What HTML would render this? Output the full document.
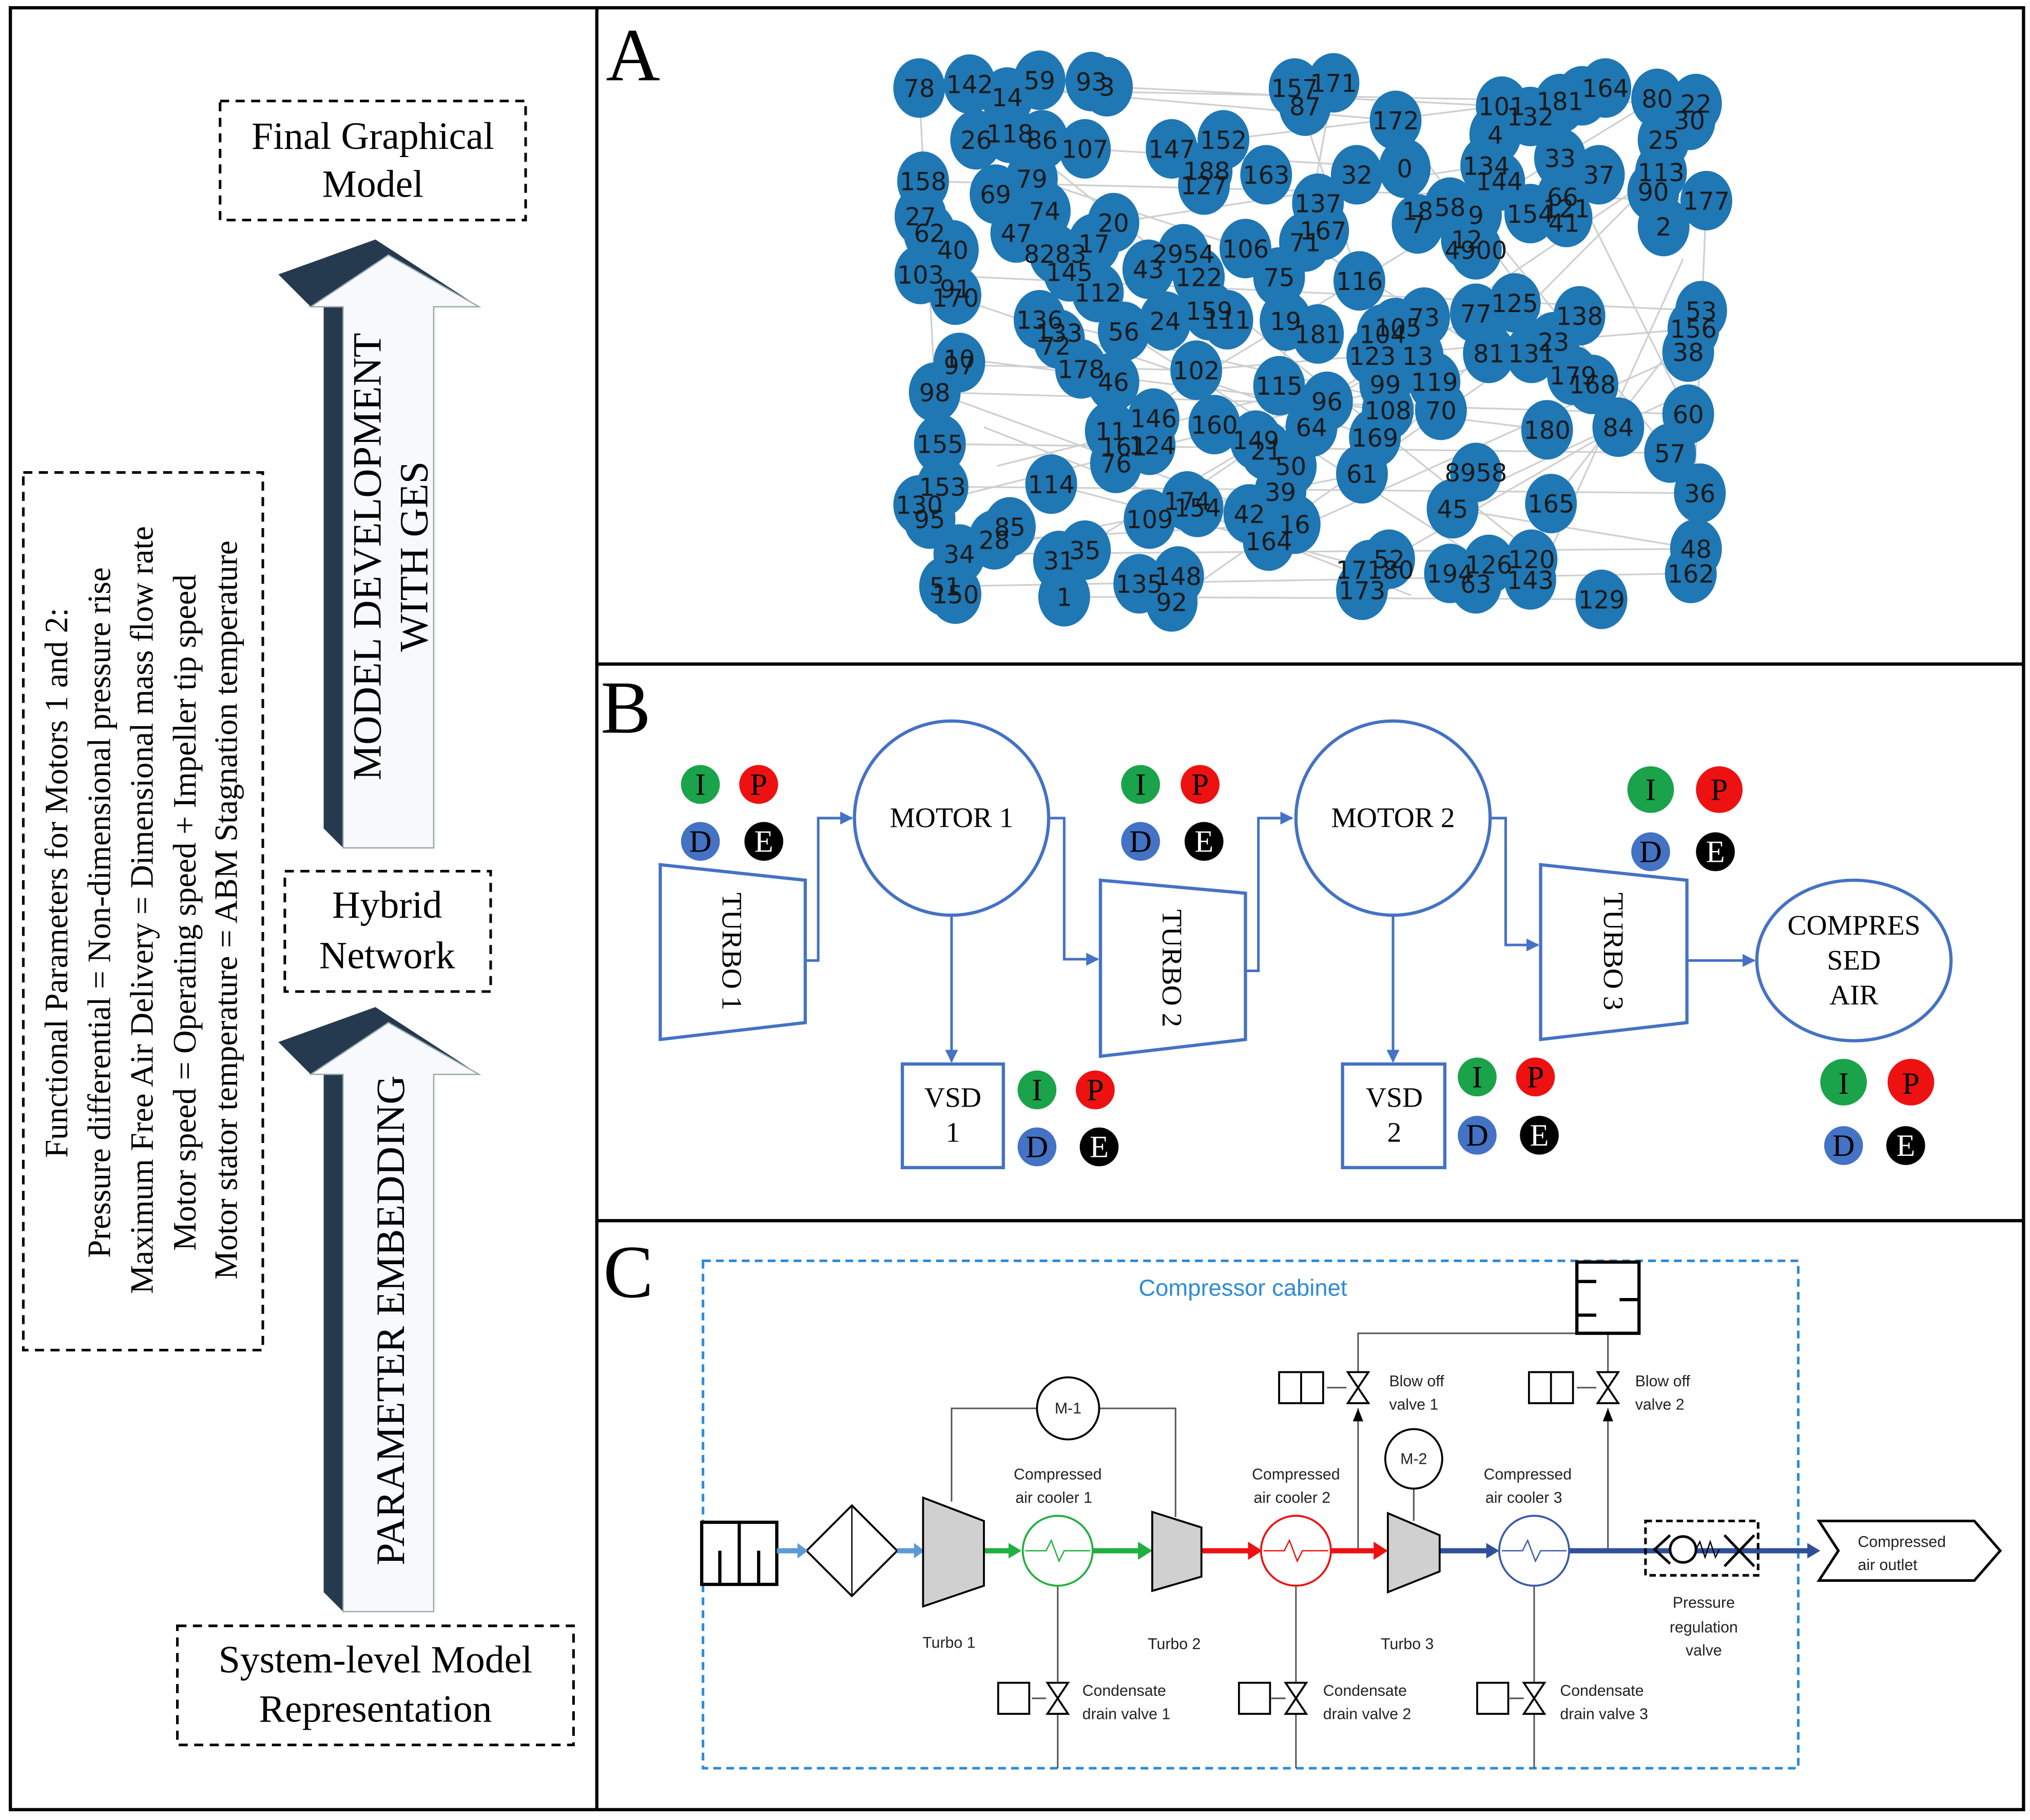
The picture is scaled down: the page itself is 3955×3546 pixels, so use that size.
<!DOCTYPE html>
<html><head><meta charset="utf-8"><style>html,body{margin:0;padding:0;background:#fff}svg{display:block}</style></head>
<body>
<svg width="3955" height="3546" viewBox="0 0 1568 1406" preserveAspectRatio="none" xmlns="http://www.w3.org/2000/svg">
<rect x="0" y="0" width="1568" height="1406" fill="#fff"/>
<g fill="none" stroke="#000" stroke-width="2.5">
<rect x="8" y="6" width="1555" height="1392"/>
<line x1="461" y1="6" x2="461" y2="1398"/>
<line x1="461" y1="513" x2="1563" y2="513"/>
<line x1="461" y1="943" x2="1563" y2="943"/>
</g>

<!-- LEFT PANEL -->
<g font-family="Liberation Serif, serif" fill="#000">
<g fill="none" stroke="#000" stroke-width="2" stroke-dasharray="7,5">
<rect x="170" y="78" width="236" height="92"/>
<rect x="220" y="673" width="159" height="93"/>
<rect x="137" y="1256" width="306" height="92"/>
<rect x="18" y="365" width="185" height="678"/>
</g>
<text x="288" y="115" font-size="30" text-anchor="middle">Final Graphical</text>
<text x="288" y="152" font-size="30" text-anchor="middle">Model</text>
<text x="299" y="709" font-size="30" text-anchor="middle">Hybrid</text>
<text x="299" y="748" font-size="30" text-anchor="middle">Network</text>
<text x="290" y="1292" font-size="30" text-anchor="middle">System-level Model</text>
<text x="290" y="1330" font-size="30" text-anchor="middle">Representation</text>

<polygon points="250,237 265,237 265,655 250,640" fill="#263a4f"/>
<polygon points="215,212 290,185 370,237 240,237" fill="#263a4f"/>
<polygon points="265,237 240,237 300,197 370,237 335,237 335,655 265,655" fill="#f7f9fc" stroke="#9aa" stroke-width="1"/>
<text transform="translate(294,430) rotate(-90)" font-size="31" text-anchor="middle">MODEL DEVELOPMENT</text>
<text transform="translate(330,430) rotate(-90)" font-size="31" text-anchor="middle">WITH GES</text>
<polygon points="250,830 265,830 265,1245 250,1230" fill="#263a4f"/>
<polygon points="215,805 290,778 370,830 240,830" fill="#263a4f"/>
<polygon points="265,830 240,830 300,790 370,830 335,830 335,1245 265,1245" fill="#f7f9fc" stroke="#9aa" stroke-width="1"/>
<text transform="translate(312,1020) rotate(-90)" font-size="31" text-anchor="middle">PARAMETER EMBEDDING</text>

<g font-size="25" text-anchor="middle">
<text transform="translate(52,682) rotate(-90)">Functional Parameters  for Motors 1 and 2:</text>
<text transform="translate(85,705) rotate(-90)">Pressure differential = Non-dimensional pressure rise</text>
<text transform="translate(118,703) rotate(-90)">Maximum Free Air Delivery = Dimensional mass flow rate</text>
<text transform="translate(151,705) rotate(-90)">Motor speed = Operating speed + Impeller tip speed</text>
<text transform="translate(183,703) rotate(-90)">Motor stator temperature = ABM Stagnation temperature</text>
</g>
</g>

<g font-family="Liberation Serif, serif" font-size="58" fill="#000">
<text x="468" y="62">A</text>
<text x="464" y="566">B</text>
<text x="466" y="1002">C</text>
</g>

<!-- PANEL A -->
<g stroke="#cfcfcf" stroke-width="1.3">
<line x1="710" y1="68" x2="1310" y2="80"/><line x1="749" y1="65" x2="1078" y2="93"/><line x1="855" y1="67" x2="1160" y2="82"/>
<line x1="713" y1="140" x2="1318" y2="155"/><line x1="711" y1="212" x2="1314" y2="240"/><line x1="722" y1="303" x2="1304" y2="320"/>
<line x1="726" y1="343" x2="1290" y2="350"/><line x1="728" y1="376" x2="1313" y2="381"/><line x1="741" y1="428" x2="1310" y2="424"/>
<line x1="730" y1="453" x2="1306" y2="443"/><line x1="822" y1="461" x2="1237" y2="463"/><line x1="710" y1="68" x2="730" y2="453"/>
<line x1="1318" y1="155" x2="1306" y2="443"/><line x1="780" y1="103" x2="1200" y2="440"/><line x1="858" y1="333" x2="1280" y2="76"/>
<line x1="741" y1="277" x2="1195" y2="332"/><line x1="818" y1="433" x2="1140" y2="242"/><line x1="888" y1="401" x2="1283" y2="133"/>
<line x1="924" y1="286" x2="1308" y2="254"/><line x1="1000" y1="68" x2="1050" y2="217"/><line x1="1030" y1="64" x2="988" y2="298"/>
<line x1="738" y1="230" x2="1062" y2="338"/><line x1="803" y1="247" x2="1113" y2="317"/><line x1="868" y1="256" x2="1150" y2="436"/>
<line x1="712" y1="390" x2="1183" y2="273"/><line x1="905" y1="465" x2="1220" y2="244"/><line x1="980" y1="418" x2="1304" y2="272"/>
<line x1="1073" y1="432" x2="1250" y2="330"/><line x1="1122" y1="393" x2="1310" y2="424"/><line x1="838" y1="115" x2="1085" y2="130"/>
<line x1="945" y1="108" x2="1222" y2="74"/><line x1="797" y1="138" x2="962" y2="192"/><line x1="860" y1="172" x2="1148" y2="128"/>
<line x1="812" y1="374" x2="1055" y2="438"/><line x1="1052" y1="366" x2="1283" y2="133"/><line x1="1198" y1="389" x2="1314" y2="240"/>
<line x1="1140" y1="166" x2="1290" y2="350"/><line x1="742" y1="282" x2="924" y2="286"/><line x1="768" y1="417" x2="1000" y2="405"/>
<line x1="1205" y1="122" x2="1304" y2="320"/><line x1="1008" y1="187" x2="1150" y2="273"/><line x1="1078" y1="93" x2="1230" y2="297"/>
<line x1="722" y1="303" x2="1000" y2="405"/><line x1="741" y1="428" x2="1052" y2="366"/><line x1="760" y1="330" x2="1090" y2="460"/>
<line x1="770" y1="360" x2="1010" y2="300"/><line x1="1140" y1="380" x2="1310" y2="300"/><line x1="1200" y1="420" x2="1300" y2="200"/>
</g>
<g fill="#1f77b4">
<ellipse cx="710" cy="68" rx="20" ry="23"/><ellipse cx="749" cy="65" rx="20" ry="23"/><ellipse cx="778" cy="75" rx="20" ry="23"/><ellipse cx="803" cy="62" rx="20" ry="23"/><ellipse cx="843" cy="63" rx="20" ry="23"/><ellipse cx="855" cy="67" rx="20" ry="23"/>
<ellipse cx="1000" cy="68" rx="20" ry="23"/><ellipse cx="1008" cy="82" rx="20" ry="23"/><ellipse cx="1030" cy="64" rx="20" ry="23"/>
<ellipse cx="1078" cy="93" rx="20" ry="23"/><ellipse cx="1160" cy="82" rx="20" ry="23"/><ellipse cx="1155" cy="104" rx="20" ry="23"/><ellipse cx="1182" cy="90" rx="20" ry="23"/><ellipse cx="1205" cy="80" rx="20" ry="23"/><ellipse cx="1222" cy="74" rx="20" ry="23"/><ellipse cx="1240" cy="68" rx="20" ry="23"/><ellipse cx="1280" cy="76" rx="20" ry="23"/><ellipse cx="1310" cy="80" rx="20" ry="23"/><ellipse cx="1305" cy="93" rx="20" ry="23"/><ellipse cx="1285" cy="108" rx="20" ry="23"/>
<ellipse cx="754" cy="108" rx="20" ry="23"/><ellipse cx="780" cy="103" rx="20" ry="23"/><ellipse cx="805" cy="108" rx="20" ry="23"/><ellipse cx="838" cy="115" rx="20" ry="23"/>
<ellipse cx="905" cy="115" rx="20" ry="23"/><ellipse cx="945" cy="108" rx="20" ry="23"/><ellipse cx="932" cy="132" rx="20" ry="23"/><ellipse cx="930" cy="143" rx="20" ry="23"/><ellipse cx="978" cy="135" rx="20" ry="23"/>
<ellipse cx="1085" cy="130" rx="20" ry="23"/><ellipse cx="1048" cy="135" rx="20" ry="23"/><ellipse cx="1148" cy="128" rx="20" ry="23"/><ellipse cx="1158" cy="140" rx="20" ry="23"/><ellipse cx="1205" cy="122" rx="20" ry="23"/><ellipse cx="1235" cy="135" rx="20" ry="23"/><ellipse cx="1283" cy="133" rx="20" ry="23"/><ellipse cx="1277" cy="148" rx="20" ry="23"/><ellipse cx="1318" cy="155" rx="20" ry="23"/><ellipse cx="1285" cy="175" rx="20" ry="23"/>
<ellipse cx="713" cy="140" rx="20" ry="23"/><ellipse cx="769" cy="150" rx="20" ry="23"/><ellipse cx="797" cy="138" rx="20" ry="23"/><ellipse cx="807" cy="163" rx="20" ry="23"/><ellipse cx="785" cy="180" rx="20" ry="23"/><ellipse cx="860" cy="172" rx="20" ry="23"/>
<ellipse cx="1018" cy="157" rx="20" ry="23"/><ellipse cx="1022" cy="178" rx="20" ry="23"/><ellipse cx="1008" cy="187" rx="20" ry="23"/><ellipse cx="1095" cy="173" rx="20" ry="23"/><ellipse cx="1120" cy="160" rx="20" ry="23"/><ellipse cx="1140" cy="166" rx="20" ry="23"/><ellipse cx="1133" cy="185" rx="20" ry="23"/><ellipse cx="1140" cy="193" rx="20" ry="23"/><ellipse cx="1182" cy="165" rx="20" ry="23"/><ellipse cx="1207" cy="152" rx="20" ry="23"/><ellipse cx="1210" cy="168" rx="20" ry="23"/>
<ellipse cx="711" cy="167" rx="20" ry="23"/><ellipse cx="718" cy="180" rx="20" ry="23"/><ellipse cx="736" cy="193" rx="20" ry="23"/><ellipse cx="711" cy="212" rx="20" ry="23"/><ellipse cx="738" cy="228" rx="20" ry="23"/>
<ellipse cx="815" cy="196" rx="20" ry="23"/><ellipse cx="845" cy="188" rx="20" ry="23"/><ellipse cx="826" cy="210" rx="20" ry="23"/><ellipse cx="848" cy="226" rx="20" ry="23"/><ellipse cx="887" cy="208" rx="20" ry="23"/><ellipse cx="914" cy="196" rx="20" ry="23"/><ellipse cx="926" cy="214" rx="20" ry="23"/><ellipse cx="962" cy="192" rx="20" ry="23"/><ellipse cx="988" cy="214" rx="20" ry="23"/><ellipse cx="1050" cy="217" rx="20" ry="23"/>
<ellipse cx="803" cy="247" rx="20" ry="23"/><ellipse cx="818" cy="262" rx="20" ry="23"/><ellipse cx="868" cy="256" rx="20" ry="23"/><ellipse cx="900" cy="248" rx="20" ry="23"/><ellipse cx="934" cy="240" rx="20" ry="23"/><ellipse cx="948" cy="247" rx="20" ry="23"/><ellipse cx="993" cy="248" rx="20" ry="23"/><ellipse cx="1018" cy="258" rx="20" ry="23"/><ellipse cx="1078" cy="253" rx="20" ry="23"/><ellipse cx="1100" cy="245" rx="20" ry="23"/><ellipse cx="1068" cy="258" rx="20" ry="23"/><ellipse cx="1140" cy="242" rx="20" ry="23"/><ellipse cx="1170" cy="234" rx="20" ry="23"/><ellipse cx="1220" cy="244" rx="20" ry="23"/><ellipse cx="1314" cy="240" rx="20" ry="23"/><ellipse cx="1308" cy="254" rx="20" ry="23"/><ellipse cx="1304" cy="272" rx="20" ry="23"/>
<ellipse cx="741" cy="280" rx="20" ry="23"/><ellipse cx="722" cy="303" rx="20" ry="23"/><ellipse cx="835" cy="285" rx="20" ry="23"/><ellipse cx="860" cy="295" rx="20" ry="23"/><ellipse cx="924" cy="286" rx="20" ry="23"/><ellipse cx="1060" cy="275" rx="20" ry="23"/><ellipse cx="1095" cy="275" rx="20" ry="23"/><ellipse cx="1150" cy="273" rx="20" ry="23"/><ellipse cx="1183" cy="273" rx="20" ry="23"/><ellipse cx="1200" cy="264" rx="20" ry="23"/><ellipse cx="1215" cy="290" rx="20" ry="23"/><ellipse cx="1230" cy="297" rx="20" ry="23"/>
<ellipse cx="988" cy="298" rx="20" ry="23"/><ellipse cx="1025" cy="310" rx="20" ry="23"/><ellipse cx="1070" cy="297" rx="20" ry="23"/><ellipse cx="1108" cy="295" rx="20" ry="23"/><ellipse cx="1072" cy="317" rx="20" ry="23"/><ellipse cx="1113" cy="317" rx="20" ry="23"/><ellipse cx="1195" cy="332" rx="20" ry="23"/><ellipse cx="1250" cy="330" rx="20" ry="23"/><ellipse cx="1304" cy="320" rx="20" ry="23"/>
<ellipse cx="726" cy="343" rx="20" ry="23"/><ellipse cx="858" cy="333" rx="20" ry="23"/><ellipse cx="891" cy="323" rx="20" ry="23"/><ellipse cx="866" cy="345" rx="20" ry="23"/><ellipse cx="888" cy="344" rx="20" ry="23"/><ellipse cx="862" cy="358" rx="20" ry="23"/><ellipse cx="938" cy="328" rx="20" ry="23"/><ellipse cx="970" cy="340" rx="20" ry="23"/><ellipse cx="1013" cy="330" rx="20" ry="23"/><ellipse cx="1062" cy="338" rx="20" ry="23"/><ellipse cx="978" cy="348" rx="20" ry="23"/><ellipse cx="997" cy="360" rx="20" ry="23"/><ellipse cx="1052" cy="366" rx="20" ry="23"/><ellipse cx="1290" cy="350" rx="20" ry="23"/>
<ellipse cx="728" cy="376" rx="20" ry="23"/><ellipse cx="710" cy="390" rx="20" ry="23"/><ellipse cx="718" cy="401" rx="20" ry="23"/><ellipse cx="812" cy="374" rx="20" ry="23"/><ellipse cx="917" cy="387" rx="20" ry="23"/><ellipse cx="925" cy="392" rx="20" ry="23"/><ellipse cx="888" cy="401" rx="20" ry="23"/><ellipse cx="965" cy="397" rx="20" ry="23"/><ellipse cx="989" cy="380" rx="20" ry="23"/><ellipse cx="1000" cy="405" rx="20" ry="23"/><ellipse cx="1122" cy="393" rx="20" ry="23"/><ellipse cx="1140" cy="365" rx="20" ry="23"/><ellipse cx="1198" cy="389" rx="20" ry="23"/><ellipse cx="1313" cy="381" rx="20" ry="23"/>
<ellipse cx="741" cy="428" rx="20" ry="23"/><ellipse cx="768" cy="417" rx="20" ry="23"/><ellipse cx="780" cy="407" rx="20" ry="23"/><ellipse cx="818" cy="433" rx="20" ry="23"/><ellipse cx="838" cy="425" rx="20" ry="23"/><ellipse cx="980" cy="418" rx="20" ry="23"/><ellipse cx="1073" cy="432" rx="20" ry="23"/><ellipse cx="1058" cy="440" rx="20" ry="23"/><ellipse cx="1120" cy="443" rx="20" ry="23"/><ellipse cx="1150" cy="436" rx="20" ry="23"/><ellipse cx="1140" cy="451" rx="20" ry="23"/><ellipse cx="1183" cy="432" rx="20" ry="23"/><ellipse cx="1182" cy="448" rx="20" ry="23"/><ellipse cx="1310" cy="424" rx="20" ry="23"/><ellipse cx="1306" cy="443" rx="20" ry="23"/>
<ellipse cx="730" cy="453" rx="20" ry="23"/><ellipse cx="738" cy="459" rx="20" ry="23"/><ellipse cx="822" cy="461" rx="20" ry="23"/><ellipse cx="880" cy="451" rx="20" ry="23"/><ellipse cx="910" cy="445" rx="20" ry="23"/><ellipse cx="905" cy="465" rx="20" ry="23"/><ellipse cx="1237" cy="463" rx="20" ry="23"/><ellipse cx="1052" cy="456" rx="20" ry="23"/>
</g>
<g font-family="DejaVu Sans, Liberation Sans, sans-serif" font-size="19" text-anchor="middle" fill="#1a1a1a">
<text x="710" y="75">78</text><text x="749" y="72">142</text><text x="778" y="82">14</text><text x="803" y="69">59</text><text x="843" y="70">93</text><text x="855" y="74">3</text>
<text x="1000" y="75">157</text><text x="1008" y="89">87</text><text x="1030" y="71">171</text>
<text x="1078" y="100">172</text><text x="1160" y="89">101</text><text x="1155" y="111">4</text><text x="1182" y="97">132</text><text x="1205" y="85">181</text><text x="1240" y="75">164</text><text x="1280" y="83">80</text><text x="1310" y="87">22</text><text x="1305" y="100">30</text><text x="1285" y="115">25</text>
<text x="754" y="115">26</text><text x="780" y="110">118</text><text x="805" y="115">86</text><text x="838" y="122">107</text>
<text x="905" y="122">147</text><text x="945" y="115">152</text><text x="932" y="139">188</text><text x="930" y="150">127</text><text x="978" y="142">163</text>
<text x="1085" y="137">0</text><text x="1048" y="142">32</text><text x="1148" y="135">134</text><text x="1158" y="147">144</text><text x="1205" y="129">33</text><text x="1235" y="142">37</text><text x="1283" y="140">113</text><text x="1277" y="155">90</text><text x="1318" y="162">177</text><text x="1285" y="182">2</text>
<text x="713" y="147">158</text><text x="769" y="157">69</text><text x="797" y="145">79</text><text x="807" y="170">74</text><text x="785" y="187">47</text><text x="860" y="179">20</text>
<text x="1018" y="164">137</text><text x="1022" y="185">167</text><text x="1008" y="194">71</text><text x="1095" y="170">18</text><text x="1095" y="180">7</text><text x="1120" y="167">58</text><text x="1140" y="173">9</text><text x="1133" y="192">12</text><text x="1140" y="200">4900</text><text x="1182" y="172">154</text><text x="1207" y="159">66</text><text x="1210" y="168">121</text><text x="1208" y="179">41</text>
<text x="711" y="174">27</text><text x="718" y="187">62</text><text x="736" y="200">40</text><text x="711" y="219">103</text><text x="738" y="230">91</text><text x="738" y="237">170</text>
<text x="815" y="203">8283</text><text x="845" y="195">17</text><text x="826" y="217">145</text><text x="848" y="233">112</text><text x="887" y="215">43</text><text x="914" y="203">2954</text><text x="926" y="221">122</text><text x="962" y="199">106</text><text x="988" y="221">75</text><text x="1050" y="224">116</text>
<text x="803" y="254">136</text><text x="818" y="264">133</text><text x="815" y="274">72</text><text x="868" y="263">56</text><text x="900" y="255">24</text><text x="934" y="247">159</text><text x="948" y="254">111</text><text x="993" y="255">19</text><text x="1018" y="265">181</text><text x="1080" y="260">105</text><text x="1100" y="252">73</text><text x="1068" y="265">104</text><text x="1140" y="249">77</text><text x="1170" y="241">125</text><text x="1220" y="251">138</text><text x="1314" y="247">53</text><text x="1308" y="261">156</text><text x="1304" y="279">38</text>
<text x="741" y="284">10</text><text x="741" y="289">97</text><text x="722" y="310">98</text><text x="835" y="292">178</text><text x="860" y="302">46</text><text x="924" y="293">102</text><text x="1060" y="282">123</text><text x="1095" y="282">13</text><text x="1150" y="280">81</text><text x="1183" y="280">131</text><text x="1200" y="271">23</text><text x="1215" y="297">179</text><text x="1230" y="304">168</text>
<text x="988" y="305">115</text><text x="1025" y="317">96</text><text x="1070" y="304">99</text><text x="1108" y="302">119</text><text x="1072" y="324">108</text><text x="1113" y="324">70</text><text x="1195" y="339">180</text><text x="1250" y="337">84</text><text x="1304" y="327">60</text>
<text x="726" y="350">155</text><text x="858" y="340">11</text><text x="891" y="330">146</text><text x="868" y="352">161</text><text x="890" y="351">124</text><text x="862" y="365">76</text><text x="938" y="335">160</text><text x="970" y="347">149</text><text x="1013" y="337">64</text><text x="1062" y="345">169</text><text x="978" y="355">21</text><text x="997" y="367">50</text><text x="1052" y="373">61</text><text x="1290" y="357">57</text>
<text x="728" y="383">153</text><text x="710" y="397">130</text><text x="718" y="408">95</text><text x="812" y="381">114</text><text x="917" y="394">174</text><text x="925" y="399">154</text><text x="888" y="408">109</text><text x="965" y="404">42</text><text x="989" y="387">39</text><text x="1000" y="412">16</text><text x="1122" y="400">45</text><text x="1140" y="372">8958</text><text x="1198" y="396">165</text><text x="1313" y="388">36</text>
<text x="741" y="435">34</text><text x="768" y="424">28</text><text x="780" y="414">85</text><text x="818" y="440">31</text><text x="838" y="432">35</text><text x="980" y="425">164</text><text x="1073" y="439">52</text><text x="1062" y="447">17180</text><text x="1120" y="450">194</text><text x="1150" y="443">126</text><text x="1140" y="458">63</text><text x="1183" y="439">120</text><text x="1182" y="455">143</text><text x="1310" y="431">48</text><text x="1306" y="450">162</text>
<text x="730" y="460">51</text><text x="738" y="466">150</text><text x="822" y="468">1</text><text x="880" y="458">135</text><text x="910" y="452">148</text><text x="905" y="472">92</text><text x="1237" y="470">129</text><text x="1052" y="463">173</text>
</g>

<!-- PANEL B -->
<defs>
<marker id="ab" markerWidth="10" markerHeight="10" refX="9" refY="5" orient="auto" markerUnits="userSpaceOnUse"><path d="M0,0 L10,5 L0,10 z" fill="#4472c4"/></marker>
</defs>
<g fill="none" stroke="#4472c4" stroke-width="2.5">
<polygon points="510,668 622,680 622,790 510,803"/>
<polygon points="850,680 962,690 962,803 850,816"/>
<polygon points="1190,668 1303,680 1303,790 1190,803"/>
<circle cx="735" cy="632" r="75"/>
<circle cx="1076" cy="632" r="75"/>
<ellipse cx="1432" cy="742" rx="75" ry="62"/>
<rect x="697" y="822" width="78" height="80"/>
<rect x="1037" y="822" width="79" height="80"/>
<polyline points="622,742 632,742 632,632 658,632" marker-end="url(#ab)" stroke-width="2"/>
<polyline points="810,632 822,632 822,741 848,741" marker-end="url(#ab)" stroke-width="2"/>
<polyline points="962,750 972,750 972,632 998,632" marker-end="url(#ab)" stroke-width="2"/>
<polyline points="1151,632 1163,632 1163,730 1188,730" marker-end="url(#ab)" stroke-width="2"/>
<polyline points="1303,742 1355,742" marker-end="url(#ab)" stroke-width="2"/>
<line x1="735" y1="707" x2="735" y2="820" marker-end="url(#ab)" stroke-width="2"/>
<line x1="1076" y1="707" x2="1076" y2="820" marker-end="url(#ab)" stroke-width="2"/>
</g>
<g font-family="Liberation Serif, serif" font-size="22" text-anchor="middle" fill="#000">
<text x="735" y="639">MOTOR 1</text>
<text x="1076" y="639">MOTOR 2</text>
<text transform="translate(558,735) rotate(90)">TURBO 1</text>
<text transform="translate(898,748) rotate(90)">TURBO 2</text>
<text transform="translate(1239,735) rotate(90)">TURBO 3</text>
<text x="1432" y="722">COMPRES</text>
<text x="1432" y="749">SED</text>
<text x="1432" y="776">AIR</text>
<text x="736" y="855">VSD</text>
<text x="736" y="882">1</text>
<text x="1077" y="855">VSD</text>
<text x="1077" y="882">2</text>
</g>
<g font-family="Liberation Serif, serif" font-size="24" text-anchor="middle">
<g><circle cx="541" cy="606" r="15" fill="#1aa34a"/><text x="541" y="614" fill="#000">I</text><circle cx="586" cy="606" r="15" fill="#ee1111"/><text x="586" y="614" fill="#000">P</text><circle cx="541" cy="650" r="15" fill="#4472c4"/><text x="541" y="658" fill="#000">D</text><circle cx="590" cy="650" r="15" fill="#000"/><text x="590" y="658" fill="#fff">E</text></g>
<g><circle cx="881" cy="606" r="15" fill="#1aa34a"/><text x="881" y="614" fill="#000">I</text><circle cx="927" cy="606" r="15" fill="#ee1111"/><text x="927" y="614" fill="#000">P</text><circle cx="881" cy="650" r="15" fill="#4472c4"/><text x="881" y="658" fill="#000">D</text><circle cx="930" cy="650" r="15" fill="#000"/><text x="930" y="658" fill="#fff">E</text></g>
<g><circle cx="1275" cy="610" r="18" fill="#1aa34a"/><text x="1275" y="618" fill="#000">I</text><circle cx="1328" cy="610" r="18" fill="#ee1111"/><text x="1328" y="618" fill="#000">P</text><circle cx="1275" cy="658" r="15" fill="#4472c4"/><text x="1275" y="666" fill="#000">D</text><circle cx="1325" cy="658" r="15" fill="#000"/><text x="1325" y="666" fill="#fff">E</text></g>
<g><circle cx="801" cy="842" r="15" fill="#1aa34a"/><text x="801" y="850" fill="#000">I</text><circle cx="846" cy="842" r="15" fill="#ee1111"/><text x="846" y="850" fill="#000">P</text><circle cx="801" cy="886" r="15" fill="#4472c4"/><text x="801" y="894" fill="#000">D</text><circle cx="849" cy="886" r="15" fill="#000"/><text x="849" y="894" fill="#fff">E</text></g>
<g><circle cx="1141" cy="832" r="15" fill="#1aa34a"/><text x="1141" y="840" fill="#000">I</text><circle cx="1186" cy="832" r="15" fill="#ee1111"/><text x="1186" y="840" fill="#000">P</text><circle cx="1141" cy="877" r="15" fill="#4472c4"/><text x="1141" y="885" fill="#000">D</text><circle cx="1189" cy="877" r="15" fill="#000"/><text x="1189" y="885" fill="#fff">E</text></g>
<g><circle cx="1424" cy="836" r="18" fill="#1aa34a"/><text x="1424" y="845" fill="#000">I</text><circle cx="1476" cy="836" r="18" fill="#ee1111"/><text x="1476" y="845" fill="#000">P</text><circle cx="1424" cy="885" r="15" fill="#4472c4"/><text x="1424" y="893" fill="#000">D</text><circle cx="1472" cy="885" r="15" fill="#000"/><text x="1472" y="893" fill="#fff">E</text></g>
</g>

<!-- PANEL C -->
<rect x="543" y="974" width="846" height="392" fill="none" stroke="#2e8bd6" stroke-width="2" stroke-dasharray="6,4"/>
<text x="960" y="1001" font-family="Liberation Sans, sans-serif" font-size="18" fill="#2e8bd6" text-anchor="middle">Compressor cabinet</text>
<g stroke="#555" stroke-width="1.2" fill="none">
<polyline points="735,1160 735,1088 801,1088"/><polyline points="849,1088 908,1088 908,1172"/>
<line x1="1092" y1="1149" x2="1092" y2="1175"/>
<line x1="1049" y1="1198" x2="1049" y2="1088"/><line x1="1242" y1="1198" x2="1242" y2="1088"/>
<polyline points="1049,1063 1049,1030 1242,1030 1242,1063"/>
<line x1="1025" y1="1072" x2="1040" y2="1072"/><line x1="1218" y1="1072" x2="1233" y2="1072"/>
<line x1="817" y1="1225" x2="817" y2="1366"/><line x1="1001" y1="1225" x2="1001" y2="1366"/><line x1="1185" y1="1225" x2="1185" y2="1366"/>
<line x1="797" y1="1312" x2="808" y2="1312"/><line x1="982" y1="1312" x2="993" y2="1312"/><line x1="1166" y1="1312" x2="1177" y2="1312"/>
</g>
<g fill="#000"><path d="M1045,1098 L1049,1088 L1053,1098 z"/><path d="M1238,1098 L1242,1088 L1246,1098 z"/></g>
<g stroke="#000" stroke-width="2.5" fill="#fff">
<rect x="1218" y="975" width="48" height="55"/>
<rect x="542" y="1176" width="58" height="48"/>
</g>
<g stroke="#000" stroke-width="2.5" fill="none">
<polyline points="1218,990 1233,990"/><polyline points="1251,1004 1266,1004"/><polyline points="1218,1016 1233,1016"/>
<line x1="556" y1="1224" x2="556" y2="1198"/><line x1="571" y1="1176" x2="571" y2="1224"/><line x1="586" y1="1224" x2="586" y2="1198"/>
</g>
<g stroke="#000" stroke-width="1.5" fill="#fff">
<rect x="988" y="1060" width="34" height="24"/><line x1="1005" y1="1060" x2="1005" y2="1084"/>
<rect x="1181" y="1060" width="34" height="24"/><line x1="1198" y1="1060" x2="1198" y2="1084"/>
<path d="M1041,1060 L1057,1060 L1041,1084 L1057,1084 z"/>
<path d="M1234,1060 L1250,1060 L1234,1084 L1250,1084 z"/>
<rect x="771" y="1300" width="24" height="24"/><path d="M809,1300 L825,1300 L809,1324 L825,1324 z"/>
<rect x="957" y="1300" width="24" height="24"/><path d="M993,1300 L1009,1300 L993,1324 L1009,1324 z"/>
<rect x="1141" y="1300" width="24" height="24"/><path d="M1177,1300 L1193,1300 L1177,1324 L1193,1324 z"/>
<circle cx="825" cy="1088" r="24"/><ellipse cx="1092" cy="1127" rx="22" ry="23"/>
<polygon points="658,1163 693,1198 658,1233 623,1198"/>
</g>
<line x1="658" y1="1163" x2="658" y2="1233" stroke="#000" stroke-width="1"/>
<g stroke-width="4" fill="none">
<line x1="600" y1="1198" x2="618" y2="1198" stroke="#5b9bd5"/><path d="M616,1192 L624,1198 L616,1204 z" fill="#5b9bd5" stroke="none"/>
<line x1="693" y1="1198" x2="708" y2="1198" stroke="#5b9bd5"/><path d="M706,1192 L714,1198 L706,1204 z" fill="#5b9bd5" stroke="none"/>
<line x1="760" y1="1198" x2="782" y2="1198" stroke="#1fb040"/><path d="M779,1192 L789,1198 L779,1204 z" fill="#1fb040" stroke="none"/>
<line x1="844" y1="1198" x2="880" y2="1198" stroke="#1fb040"/><path d="M879,1191 L890,1198 L879,1205 z" fill="#1fb040" stroke="none"/>
<line x1="928" y1="1198" x2="965" y2="1198" stroke="#ee1111"/><path d="M964,1191 L975,1198 L964,1205 z" fill="#ee1111" stroke="none"/>
<line x1="1028" y1="1198" x2="1062" y2="1198" stroke="#ee1111"/><path d="M1061,1191 L1072,1198 L1061,1205 z" fill="#ee1111" stroke="none"/>
<line x1="1112" y1="1198" x2="1150" y2="1198" stroke="#2f4f9a"/><path d="M1148,1192 L1158,1198 L1148,1204 z" fill="#2f4f9a" stroke="none"/>
<line x1="1212" y1="1198" x2="1398" y2="1198" stroke="#2f4f9a"/><path d="M1396,1192 L1406,1198 L1396,1204 z" fill="#2f4f9a" stroke="none"/>
</g>
<g stroke="#000" stroke-width="1.5" fill="#d0d0d0">
<polygon points="713,1157 760,1175 760,1225 713,1241"/>
<polygon points="890,1168 928,1180 928,1218 890,1229"/>
<polygon points="1072,1169 1112,1186 1112,1214 1072,1230"/>
</g>
<g fill="none" stroke-width="1.5">
<circle cx="817" cy="1198" r="27" stroke="#1fb040"/><polyline points="792,1198 808,1198 812,1190 818,1206 822,1198 842,1198" stroke="#1fb040" stroke-width="1"/>
<circle cx="1001" cy="1198" r="27" stroke="#ee1111"/><polyline points="976,1198 992,1198 996,1190 1002,1206 1006,1198 1026,1198" stroke="#ee1111" stroke-width="1"/>
<circle cx="1185" cy="1198" r="27" stroke="#3a5aaa"/><polyline points="1160,1198 1176,1198 1180,1190 1186,1206 1190,1198 1210,1198" stroke="#3a5aaa" stroke-width="1"/>
</g>
<rect x="1271" y="1175" width="87" height="42" fill="none" stroke="#000" stroke-width="2" stroke-dasharray="5,3"/>
<g stroke="#000" stroke-width="2" fill="#fff">
<circle cx="1300" cy="1197" r="10"/>
<polyline points="1290,1186 1278,1197 1290,1208" fill="none"/>
<polyline points="1310,1197 1313,1191 1317,1203 1321,1191 1325,1203 1328,1197" fill="none" stroke-width="1"/>
<line x1="1332" y1="1186" x2="1355" y2="1210"/><line x1="1332" y1="1210" x2="1355" y2="1186"/>
</g>
<polygon points="1405,1175 1525,1175 1545,1198 1525,1221 1405,1221 1420,1198" fill="#fff" stroke="#000" stroke-width="2"/>
<g font-family="Liberation Sans, sans-serif" font-size="12" fill="#222">
<text x="817" y="1143" text-anchor="middle">Compressed</text><text x="814" y="1161" text-anchor="middle">air cooler 1</text>
<text x="1001" y="1143" text-anchor="middle">Compressed</text><text x="998" y="1161" text-anchor="middle">air cooler 2</text>
<text x="1180" y="1143" text-anchor="middle">Compressed</text><text x="1177" y="1161" text-anchor="middle">air cooler 3</text>
<text x="825" y="1092" text-anchor="middle">M-1</text><text x="1092" y="1131" text-anchor="middle">M-2</text>
<text x="733" y="1273" text-anchor="middle">Turbo 1</text><text x="907" y="1274" text-anchor="middle">Turbo 2</text><text x="1087" y="1274" text-anchor="middle">Turbo 3</text>
<text x="1073" y="1071">Blow off</text><text x="1073" y="1089">valve 1</text>
<text x="1263" y="1071">Blow off</text><text x="1263" y="1089">valve 2</text>
<text x="836" y="1310">Condensate</text><text x="836" y="1328">drain valve 1</text>
<text x="1022" y="1310">Condensate</text><text x="1022" y="1328">drain valve 2</text>
<text x="1205" y="1310">Condensate</text><text x="1205" y="1328">drain valve 3</text>
<text x="1316" y="1242" text-anchor="middle">Pressure</text><text x="1316" y="1261" text-anchor="middle">regulation</text><text x="1316" y="1279" text-anchor="middle">valve</text>
<text x="1435" y="1195">Compressed</text><text x="1435" y="1213">air outlet</text>
</g>
</svg>
</body></html>
